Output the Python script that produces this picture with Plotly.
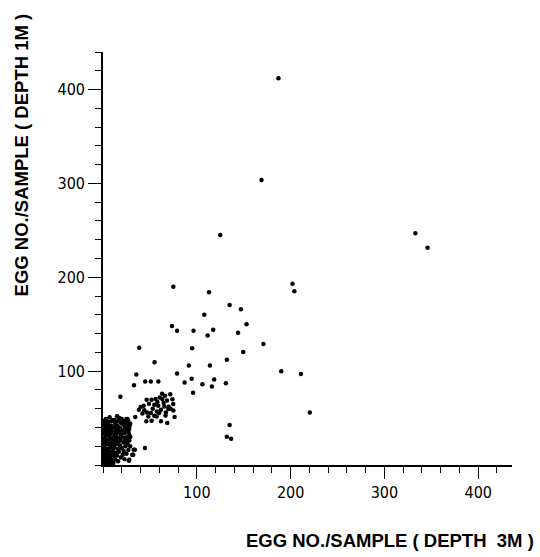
import plotly.graph_objects as go

# ---- data (egg numbers per sample) ----
# dense cluster near origin
cluster_x = [1, 2, 0.5, 3, 1.5, 4, 2.5, 0.8, 3.5, 5, 6, 5.5, 7, 4.5, 6.5, 8, 9, 8.5, 10, 7.5,
             2, 0.5, 3, 1.2, 4, 5.5, 6, 2.5, 0.8, 4.5, 3.5, 1.5, 5, 2.8, 0.6, 4, 6.5, 7, 8, 9,
             10, 11, 7.5, 8.5, 6, 9.5, 10.5, 12, 11, 13, 12.5, 14, 15, 16, 14.5, 13, 12, 14, 16, 15,
             17, 18, 19, 20, 17.5, 21, 22, 23, 24, 25, 26, 27, 21, 23, 25, 27, 26, 28, 24, 22,
             20, 19, 18, 20, 22, 24, 26, 28, 17, 15, 13, 11, 16, 19, 21, 23, 25, 27, 29, 14,
             12, 10, 3, 7, 15, 1, 5, 9, 13, 11, 16, 19, 23, 2, 4, 7, 0.3, 0.3, 0.4, 0.5,
             2, 18, 28, 29, 26, 8, 12, 28, 32.3, 34, 31.2, 32.7, 27.7, 29.1, 26.3, 27.7, 28.4, 26.3]
cluster_y = [2, 5, 8, 3, 12, 7, 15, 18, 10, 2, 5, 12, 8, 17, 15, 3, 6, 11, 14, 19,
             21, 25, 24, 28, 27, 22, 26, 31, 34, 32, 36, 38, 40, 42, 44, 45, 35, 30, 24, 28,
             21, 25, 38, 42, 46, 47, 35, 31, 40, 44, 48, 38, 42, 47, 33, 27, 19, 22, 25, 29,
             36, 40, 45, 49, 50, 44, 47, 41, 45, 49, 43, 47, 37, 34, 38, 35, 30, 32, 27, 24,
             30, 33, 21, 18, 15, 20, 23, 26, 14, 10, 6, 2, 4, 8, 11, 6, 12, 16, 20, 13,
             9, 48, 49, 51, 52, 47, 43, 39, 35, 17, 17, 26, 29, 1, 0.5, 1, 3, 14, 22, 39,
             45, 29, 40, 44, 49, 33, 13, 5.6, 11, 16.3, 11, 16.3, 4.6, 29.8, 25.2, 37.6, 42.9, 48.2]

# secondary cluster
group_x = [71.7, 66.0, 60.4, 56.1, 51.8, 46.5, 68.2, 63.2, 64.6, 74.9, 43.3, 40.1, 38.3, 49.0,
           54.7, 58.9, 65.3, 69.6, 72.1, 61.8, 44.0, 46.9, 51.1, 57.5, 60.0, 66.7, 76.3, 54.7,
           34.4, 46.1, 51.8, 61.8, 68.5, 57.2, 48.3, 70, 74, 63, 53, 42, 67, 58, 75]
group_y = [75.5, 73.8, 72.0, 70.2, 69.5, 69.5, 68.8, 70.2, 66.0, 64.9, 63.1, 61.7, 58.9, 65.3,
           64.2, 63.1, 62.4, 59.6, 59.9, 58.9, 58.2, 56.0, 55.3, 57.1, 55.3, 52.8, 51.1, 52.5,
           51.1, 46.5, 47.2, 46.5, 44.7, 51.8, 51.8, 62, 70, 76, 60, 55, 56, 67, 58]

# scattered points
scatter_x = [18.5, 44.7, 38.7, 55, 35.5, 79, 33, 45, 51, 59, 75, 73.5, 79, 96.5, 117.5, 111.5,
             144, 108, 113, 135, 147, 153, 125, 169, 187, 171, 95, 149.5, 132, 91.5, 114, 94.5,
             87, 118.5, 106, 116, 131, 96, 135, 132, 136.6, 202, 204, 190, 211, 220.5, 333, 346]
scatter_y = [72.7, 18, 125, 109.5, 96.4, 97.5, 85, 89, 89, 89, 190, 148, 143, 143, 144, 138,
             141, 160, 184, 170.5, 166, 150, 245, 303.5, 412, 129, 124.5, 120.5, 112, 106, 106, 92,
             88, 91, 86, 83.6, 87, 77, 42.5, 30, 28, 193, 185, 100, 97, 56, 247, 231.5]

x_vals = cluster_x + group_x + scatter_x
y_vals = cluster_y + group_y + scatter_y

major_ticks = [100, 200, 300, 400]
tick_labels = ["100", "200", "300", "400"]
x_title = "EGG NO./SAMPLE ( DEPTH\u00a0\u00a03M )"
y_title = "EGG NO./SAMPLE ( DEPTH\u00a01M )"

fig = go.Figure()
fig.add_trace(go.Scatter(x=x_vals, y=y_vals, mode="markers",
                         marker=dict(color="black", size=4.5, line=dict(width=0)),
                         showlegend=False, hoverinfo="skip"))

tick_font = dict(family="Liberation Sans Narrow, Arial Narrow, DejaVu Sans Condensed, sans-serif",
                 size=16, color="black")
axis_common = dict(showgrid=False, zeroline=False, showline=True, linecolor="black", linewidth=1.6,
                   ticks="outside", tickcolor="black", tickwidth=1.4,
                   tickmode="array", tickvals=major_ticks, ticktext=tick_labels,
                   tickfont=tick_font,
                   minor=dict(ticks="outside", ticklen=6, tickwidth=1.2, tickcolor="black",
                              tickmode="linear", tick0=0, dtick=20, showgrid=False))

fig.update_xaxes(range=[0, 436], ticklen=12, **axis_common)
fig.update_yaxes(range=[0, 440], ticklen=13, **axis_common)

title_font = dict(family="Liberation Sans, Arial, sans-serif", size=18.5, color="black")
fig.add_annotation(text="<b>" + x_title + "</b>", xref="paper", yref="paper",
                   x=1.058, y=-0.183, xanchor="right", yanchor="middle",
                   showarrow=False, font=title_font)
fig.add_annotation(text="<b>" + y_title + "</b>", xref="paper", yref="paper",
                   x=-0.2, y=0.75, xanchor="center", yanchor="middle", textangle=-90,
                   showarrow=False, font=title_font)

fig.update_layout(width=540, height=557,
                  margin=dict(l=103, r=27.6, t=51.7, b=91.7),
                  plot_bgcolor="white", paper_bgcolor="white")

fig.write_html("out.html")
